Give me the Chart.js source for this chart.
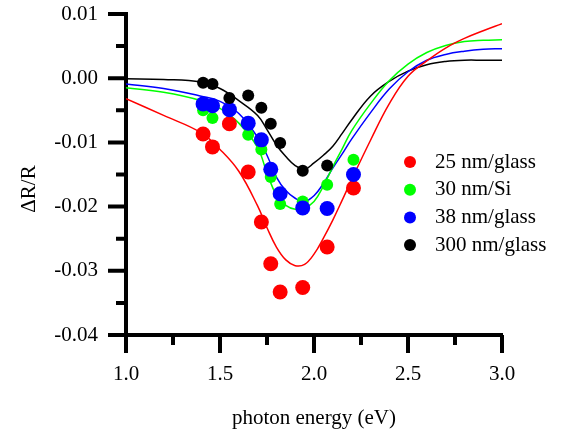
<!DOCTYPE html>
<html>
<head>
<meta charset="utf-8">
<script src="https://cdn.jsdelivr.net/npm/chart.js@4.4.0/dist/chart.umd.min.js"></script>
<style>
body { margin: 0; background: #fff; }
canvas { display: block; }
</style>
</head>
<body>
<canvas id="chart" width="565" height="435"></canvas>
<script>
// measured points (photon energy in eV, dR/R)
const dotX = [1.41, 1.46, 1.55, 1.65, 1.72, 1.77, 1.82, 1.94, 2.07, 2.21]
const dots25 = [-0.0087, -0.0107, -0.0071, -0.0146, -0.0224, -0.0289, -0.0333, -0.0326, -0.0263, -0.0171]
const dots30 = [-0.0050, -0.0062, -0.0050, -0.0088, -0.0111, -0.0154, -0.0196, -0.0192, -0.0166, -0.0127]
const dots38 = [-0.0040, -0.0043, -0.0049, -0.0070, -0.0096, -0.0142, -0.0180, -0.0202, -0.0203, -0.0150]
const dots300 = [-0.0007, -0.0009, -0.0031, -0.0027, -0.0046, -0.0071, -0.0101, -0.0144, -0.0136]

// fitted curves
const fitX = [1.0, 1.2, 1.4, 1.5, 1.6, 1.7, 1.75, 1.8, 1.85, 1.9, 1.95, 2.0, 2.05, 2.1, 2.15, 2.2, 2.3, 2.4, 2.5, 2.6, 2.7, 2.8, 2.9, 3.0]
const fit25 = [-0.0032, -0.0058, -0.0085, -0.0111, -0.0145, -0.0199, -0.0233, -0.0263, -0.0283, -0.0292, -0.0290, -0.0274, -0.0249, -0.0221, -0.0190, -0.0158, -0.0097, -0.0040, 0.0003, 0.0027, 0.0047, 0.0062, 0.0074, 0.0085]
const fit30 = [-0.0015, -0.0022, -0.0035, -0.0047, -0.0070, -0.0108, -0.0148, -0.0182, -0.0198, -0.0204, -0.0202, -0.0192, -0.0168, -0.0138, -0.0110, -0.0082, -0.0040, -0.0004, 0.0022, 0.0040, 0.0051, 0.0057, 0.0059, 0.0060]
const fit38 = [-0.0009, -0.0016, -0.0028, -0.0036, -0.0055, -0.0092, -0.0120, -0.0154, -0.0175, -0.0187, -0.0192, -0.0183, -0.0164, -0.0140, -0.0118, -0.0095, -0.0054, -0.0017, 0.0010, 0.0028, 0.0037, 0.0042, 0.0045, 0.0046]
const fit300 = [-0.0001, -0.0002, -0.0006, -0.0016, -0.0035, -0.0058, -0.0080, -0.0104, -0.0122, -0.0136, -0.0142, -0.0132, -0.0120, -0.0106, -0.0086, -0.0065, -0.0028, -0.0005, 0.0011, 0.0021, 0.0026, 0.0028, 0.0028, 0.0028]

const labels = ['25 nm/glass', '30 nm/Si', '38 nm/glass', '300 nm/glass']
const colors = ['#ff0000', '#00ff00', '#0000ff', '#000000']

// axis ticks
const xMajor = [1.0, 1.5, 2.0, 2.5, 3.0]
const xMinor = [1.25, 1.75, 2.25, 2.75]
const yMajor = [0.01, 0.00, -0.01, -0.02, -0.03, -0.04]
const yMinor = [0.005, -0.005, -0.015, -0.025, -0.035]

const font = '"Liberation Serif", "Times New Roman", serif'

function pts(xs, ys) {
    return ys.map((y, i) => ({ x: xs[i], y: y }))
}

const dotSets = [dots25, dots30, dots38, dots300]
const fitSets = [fit25, fit30, fit38, fit300]
const dotSize = [7.5, 6, 7.5, 6]
const dotOrder = [4, 3, 2, 1]

const datasets = []
fitSets.forEach((f, i) => {
    datasets.push({
        label: 'fit ' + labels[i], data: pts(fitX, f), showLine: true,
        borderColor: colors[i], borderWidth: 1.5, pointRadius: 0,
        tension: 0.4, order: 10
    })
})
dotSets.forEach((d, i) => {
    datasets.push({
        label: labels[i], data: pts(dotX, d), showLine: false,
        backgroundColor: colors[i], borderWidth: 0, pointRadius: dotSize[i],
        order: dotOrder[i]
    })
})

// outward ticks, y title and the legend inside the plot
const extras = {
    id: 'extras',
    afterDraw(chart) {
        const ctx = chart.ctx
        const xs = chart.scales.x
        const ys = chart.scales.y
        const x0 = xs.left
        const y0 = ys.bottom
        ctx.save()
        ctx.strokeStyle = '#000'
        ctx.lineWidth = 4
        ctx.beginPath()
        yMajor.forEach(v => { const p = ys.getPixelForValue(v); ctx.moveTo(x0 - 18, p); ctx.lineTo(x0, p) })
        yMinor.forEach(v => { const p = ys.getPixelForValue(v); ctx.moveTo(x0 - 10, p); ctx.lineTo(x0, p) })
        xMajor.forEach(v => { const p = xs.getPixelForValue(v); ctx.moveTo(p, y0); ctx.lineTo(p, y0 + 18) })
        xMinor.forEach(v => { const p = xs.getPixelForValue(v); ctx.moveTo(p, y0); ctx.lineTo(p, y0 + 10) })
        ctx.stroke()

        ctx.font = '21px ' + font
        ctx.fillStyle = '#000'
        ctx.save()
        ctx.translate(29, 189)
        ctx.rotate(-Math.PI / 2)
        ctx.textAlign = 'center'
        ctx.textBaseline = 'middle'
        ctx.fillText('ΔR/R', 0, 0)
        ctx.restore()

        ctx.textBaseline = 'middle'
        labels.forEach((t, i) => {
            const ly = 162 + i * 27.7
            ctx.beginPath()
            ctx.fillStyle = colors[i]
            ctx.arc(410, ly, 6, 0, Math.PI * 2)
            ctx.fill()
            ctx.fillStyle = '#000'
            ctx.fillText(t, 435, ly)
        })
        ctx.restore()
    }
}

const ctx = document.getElementById('chart').getContext('2d')
const myChart = new Chart(ctx, {
    type: 'scatter',
    data: { datasets: datasets },
    options: {
        responsive: false, animation: false, devicePixelRatio: 1,
        layout: { padding: { left: 0, right: 63, top: 14, bottom: 0 } },
        plugins: { legend: { display: false }, tooltip: { enabled: false } },
        scales: {
            x: {
                type: 'linear', min: 1, max: 3,
                afterFit: s => { s.height = 100; s.paddingLeft = 0; s.paddingRight = 0 },
                afterBuildTicks: s => { s.ticks = xMajor.map(v => ({ value: v })) },
                grid: { display: false, drawTicks: false },
                border: { display: true, color: '#000', width: 4 },
                ticks: { color: '#000', padding: 27, maxRotation: 0, font: { family: font, size: 21 },
                    callback: v => v.toFixed(1) },
                title: { display: true, text: 'photon energy (eV)', color: '#000',
                    font: { family: font, size: 21 }, padding: { top: 0, bottom: 4 } }
            },
            y: {
                type: 'linear', min: -0.04, max: 0.01,
                afterFit: s => { s.width = 126; s.paddingTop = 0; s.paddingBottom = 0 },
                afterBuildTicks: s => { s.ticks = yMajor.map(v => ({ value: v })) },
                grid: { display: false, drawTicks: false },
                border: { display: true, color: '#000', width: 4 },
                ticks: { color: '#000', padding: 28, font: { family: font, size: 21 },
                    callback: v => v.toFixed(2) }
            }
        }
    },
    plugins: [extras]
})
</script>
</body>
</html>
